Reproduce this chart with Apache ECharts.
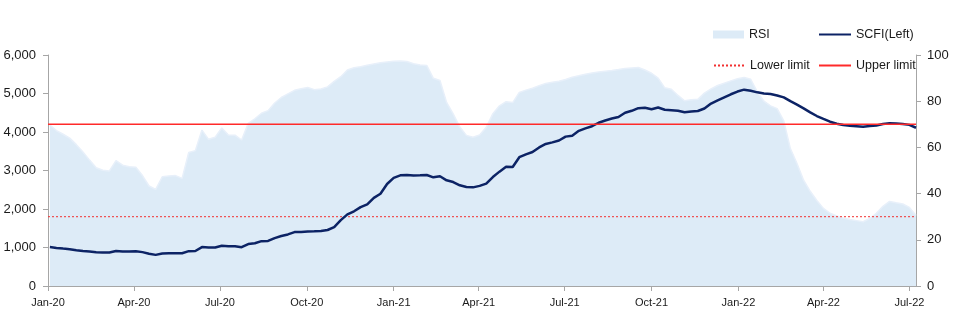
<!DOCTYPE html>
<html>
<head>
<meta charset="utf-8">
<script src="https://cdn.jsdelivr.net/npm/echarts@6/dist/echarts.min.js"></script>
<style>
html,body{margin:0;padding:0;background:#fff;}
#chart{width:955px;height:320px;}
</style>
</head>
<body>
<div id="chart"></div>
<script>
// Weekly observations, first release 2020-01-03 (day 2 counted from 2020-01-01)
const firstDay = 2;
const weekStep = 7;
const scfi = [
 1010, 990, 972, 955, 930, 910, 895, 878, 872, 870,
 910, 895, 898, 900, 880, 840, 808, 845, 850, 850,
 850, 905, 909, 1010, 1000, 1000, 1045, 1035, 1030, 1008,
 1090, 1110, 1165, 1170, 1245, 1300, 1340, 1400, 1402, 1415,
 1422, 1430, 1455, 1530, 1710, 1860, 1940, 2050, 2120, 2290,
 2395, 2650, 2810, 2875, 2883, 2870, 2875, 2883, 2823, 2850,
 2745, 2700, 2615, 2572, 2562, 2600, 2660, 2830, 2970, 3100,
 3090, 3345, 3420, 3480, 3600, 3690, 3730, 3780, 3880, 3905,
 4030, 4095, 4150, 4240, 4300, 4350, 4390, 4500, 4550, 4620,
 4630, 4590, 4635, 4578, 4568, 4550, 4512, 4530, 4545, 4610,
 4740, 4820, 4900, 4980, 5050, 5100, 5070, 5030, 5000, 4986,
 4950, 4900, 4800, 4710, 4614, 4510, 4415, 4340, 4267, 4215,
 4180, 4163, 4150, 4137, 4155, 4170, 4210, 4225, 4220, 4207,
 4185, 4110
];
const rsi = [
 69.7, 67.3, 65.7, 64.0, 61.2, 58.0, 54.5, 51.2, 50.1, 49.8,
 54.3, 52.3, 51.6, 51.4, 47.8, 43.3, 41.8, 47.3, 47.6, 47.8,
 46.6, 57.8, 58.6, 67.5, 63.5, 64.4, 68.4, 65.4, 65.3, 63.2,
 70.4, 72.4, 74.8, 75.9, 79.2, 81.6, 83.2, 84.7, 85.4, 85.9,
 85.0, 85.3, 86.2, 88.6, 90.6, 93.5, 94.5, 94.9, 95.6, 96.1,
 96.6, 97.0, 97.3, 97.4, 97.2, 96.2, 95.7, 95.5, 89.9, 89.0,
 79.5, 74.5, 68.8, 65.2, 64.4, 65.4, 68.7, 74.6, 78.0, 79.8,
 79.4, 83.8, 84.8, 85.6, 86.7, 87.7, 88.2, 88.6, 89.4, 90.4,
 91.0, 91.7, 92.2, 92.6, 93.0, 93.3, 93.7, 94.2, 94.4, 94.6,
 93.5, 92.1, 90.0, 85.8, 85.2, 82.5, 80.2, 80.6, 80.8, 83.5,
 85.3, 86.8, 87.8, 88.8, 89.7, 90.3, 89.5, 84.0, 80.0, 78.0,
 76.8, 71.5, 59.5, 53.0, 45.8, 41.0, 37.0, 33.6, 31.5, 30.3,
 29.4, 28.8, 28.3, 27.8, 29.2, 31.5, 34.5, 36.6, 36.0, 35.5,
 34.0, 30.5
];
const lowerLimit = 30;
const upperLimit = 70;
const axisEndDay = 919;
const quarterDays = [0, 91, 182, 274, 366, 456, 547, 639, 731, 821, 912];
const quarterLabels = ['Jan-20','Apr-20','Jul-20','Oct-20','Jan-21','Apr-21','Jul-21','Oct-21','Jan-22','Apr-22','Jul-22'];

const days = scfi.map((_, i) => firstDay + weekStep * i);
const scfiData = scfi.map((v, i) => [days[i], v]);
const rsiData = rsi.map((v, i) => [days[i], v]);

const FONT = "'Liberation Sans',Arial,sans-serif";
const AXIS_COLOR = '#A6A6A6';
const TEXT_COLOR = '#1a1a1a';

const chart = echarts.init(document.getElementById('chart'), null, {renderer: 'canvas'});
const legendText = {fontFamily: FONT, fontSize: 12.5, color: TEXT_COLOR};
const hiddenSymbol = {opacity: 0};
chart.setOption({
  animation: false,
  textStyle: {fontFamily: FONT},
  grid: {left: 48, right: 39, top: 55, bottom: 34, containLabel: false},
  legend: [
    {data: [{name: 'RSI', icon: 'rect', itemStyle: {color: '#DDEBF7'}}], left: 708, top: 23, itemWidth: 31, itemHeight: 8, textStyle: legendText, selectedMode: false},
    {data: ['SCFI(Left)'], left: 813, top: 23, itemWidth: 32, itemHeight: 14, itemStyle: hiddenSymbol, textStyle: legendText, selectedMode: false},
    {data: ['Lower limit'], left: 708, top: 54, itemWidth: 31, itemHeight: 14, itemStyle: hiddenSymbol, textStyle: legendText, selectedMode: false},
    {data: ['Upper limit'], left: 813, top: 54, itemWidth: 32, itemHeight: 14, itemStyle: hiddenSymbol, textStyle: legendText, selectedMode: false}
  ],
  xAxis: {
    type: 'value', min: 0, max: axisEndDay,
    splitLine: {show: false},
    axisLine: {show: true, lineStyle: {color: AXIS_COLOR, width: 1}},
    axisTick: {show: true, length: 5, lineStyle: {color: AXIS_COLOR}, customValues: quarterDays},
    axisLabel: {
      customValues: quarterDays, margin: 11, fontSize: 11, color: TEXT_COLOR, fontFamily: FONT,
      formatter: v => { const k = quarterDays.indexOf(v); return k >= 0 ? quarterLabels[k] : ''; }
    }
  },
  yAxis: [
    {
      type: 'value', min: 0, max: 6000, interval: 1000, position: 'left',
      splitLine: {show: false},
      axisLine: {show: true, lineStyle: {color: AXIS_COLOR}},
      axisTick: {show: true, length: 5, lineStyle: {color: AXIS_COLOR}},
      axisLabel: {margin: 12, fontSize: 13, color: TEXT_COLOR, fontFamily: FONT,
        formatter: v => v.toLocaleString('en-US')}
    },
    {
      type: 'value', min: 0, max: 100, interval: 20, position: 'right',
      splitLine: {show: false},
      axisLine: {show: true, lineStyle: {color: AXIS_COLOR}},
      axisTick: {show: true, length: 5, lineStyle: {color: AXIS_COLOR}},
      axisLabel: {margin: 11, fontSize: 13, color: TEXT_COLOR, fontFamily: FONT}
    }
  ],
  series: [
    {
      name: 'RSI', type: 'line', yAxisIndex: 1, data: rsiData, symbol: 'none',
      lineStyle: {color: '#E8F0FA', width: 1.5},
      itemStyle: {color: '#DDEBF7'},
      areaStyle: {color: '#DDEBF7', opacity: 1},
      z: 1
    },
    {
      name: 'Lower limit', type: 'line', yAxisIndex: 1, symbol: 'none',
      data: [[0, lowerLimit], [axisEndDay, lowerLimit]],
      lineStyle: {color: '#F23030', width: 1, type: [2, 2]},
      itemStyle: {color: '#F23030'},
      z: 3
    },
    {
      name: 'SCFI(Left)', type: 'line', yAxisIndex: 0, data: scfiData, symbol: 'none',
      lineStyle: {color: '#0C2365', width: 2.5},
      itemStyle: {color: '#0C2365'},
      z: 4
    },
    {
      name: 'Upper limit', type: 'line', yAxisIndex: 1, symbol: 'none',
      data: [[0, upperLimit], [axisEndDay, upperLimit]],
      lineStyle: {color: '#FF2A2A', width: 1.5},
      itemStyle: {color: '#FF2A2A'},
      z: 5
    }
  ]
});
</script>
</body>
</html>
